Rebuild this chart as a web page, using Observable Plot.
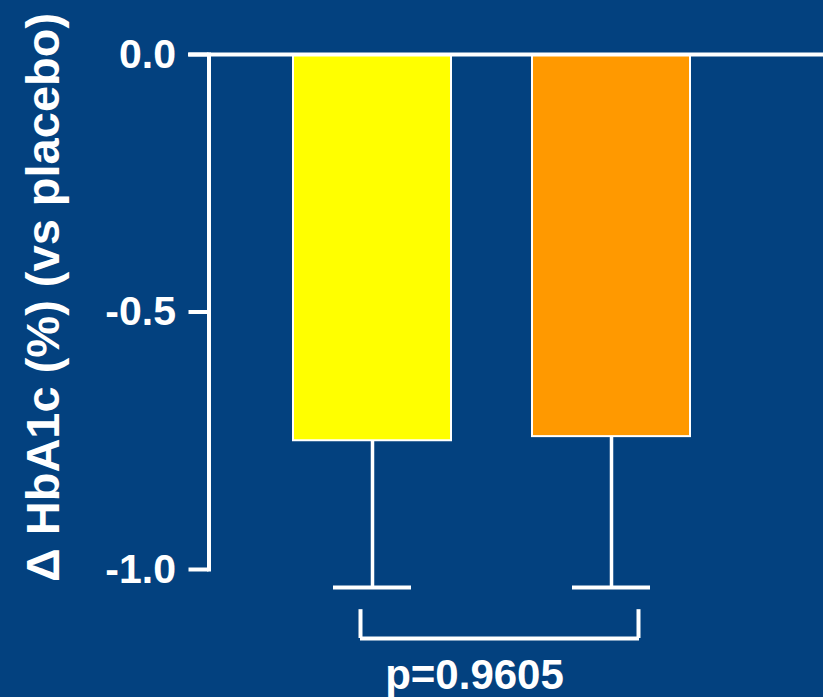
<!DOCTYPE html>
<html>
<head>
<meta charset="utf-8">
<script src="https://cdn.jsdelivr.net/npm/d3@7"></script>
<script src="https://cdn.jsdelivr.net/npm/@observablehq/plot@0.6"></script>
<style>
  html, body { margin: 0; padding: 0; background: #03417f; }
</style>
</head>
<body>
<div id="chart"></div>
<script>
const groups = ["Treatment A", "Treatment B"];
const changes = [-0.750, -0.742];
const errors = [0.285, 0.293];
const colors = ["#ffff00", "#ff9900"];
const yTicks = [0, -0.5, -1];
const yLabel = "Δ HbA1c (%) (vs placebo)";
const pLabel = "p=0.9605";
const bracketLevels = [-1.078, -1.134];
const pLevel = [-1.205];

const data = groups.map((g, i) => ({group: g, change: changes[i], err: errors[i], color: colors[i]}));
const white = "white";

const chart = Plot.plot({
  width: 823,
  height: 697,
  marginLeft: 211.5,
  marginRight: 50.5,
  marginTop: 54,
  marginBottom: 128,
  style: {background: "#03417f", color: white, fontFamily: "'Liberation Sans', Arial, sans-serif", fontWeight: "bold", fontSize: "41px"},
  x: {domain: groups, padding: 0.3375, axis: null},
  y: {domain: [-1, 0], axis: null},
  color: {type: "identity"},
  marks: [
    Plot.barY(data, {x: "group", y: "change", fill: "color", stroke: white, strokeWidth: 2}),
    Plot.ruleX(data, {x: "group", y1: "change", y2: d => d.change - d.err, stroke: white, strokeWidth: 3.5}),
    Plot.tickY(data, {x: "group", y: d => d.change - d.err, stroke: white, strokeWidth: 4, insetLeft: 40, insetRight: 40}),
    Plot.ruleY([0], {stroke: white, strokeWidth: 4, insetLeft: -23.5, insetRight: -51}),
    Plot.frame({anchor: "left", stroke: white, strokeWidth: 4, dx: -3}),
    Plot.axisY({ticks: yTicks, tickSize: 20, tickPadding: 13, tickFormat: d => d.toFixed(1), strokeWidth: 4, stroke: white, fill: white, fontSize: 41, fontWeight: "bold", label: null, dx: -3}),
    Plot.ruleY([bracketLevels[1]], {stroke: white, strokeWidth: 4, insetLeft: 148.5, insetRight: 133.5}),
    Plot.ruleX([groups[0]], {y1: bracketLevels[0], y2: bracketLevels[1], stroke: white, strokeWidth: 4, dx: -12}),
    Plot.ruleX([groups[1]], {y1: bracketLevels[0], y2: bracketLevels[1], stroke: white, strokeWidth: 4, dx: 27}),
    Plot.text([pLabel], {text: d => d, y: pLevel, frameAnchor: "middle", dx: -18, fill: white, fontSize: 42, fontWeight: "bold"}),
    Plot.text([yLabel], {text: d => d, frameAnchor: "left", textAnchor: "middle", rotate: -90, dx: -168.5, dy: -14.5, fill: white, fontSize: 47, fontWeight: "bold"})
  ]
});
document.getElementById("chart").appendChild(chart);
</script>
</body>
</html>
